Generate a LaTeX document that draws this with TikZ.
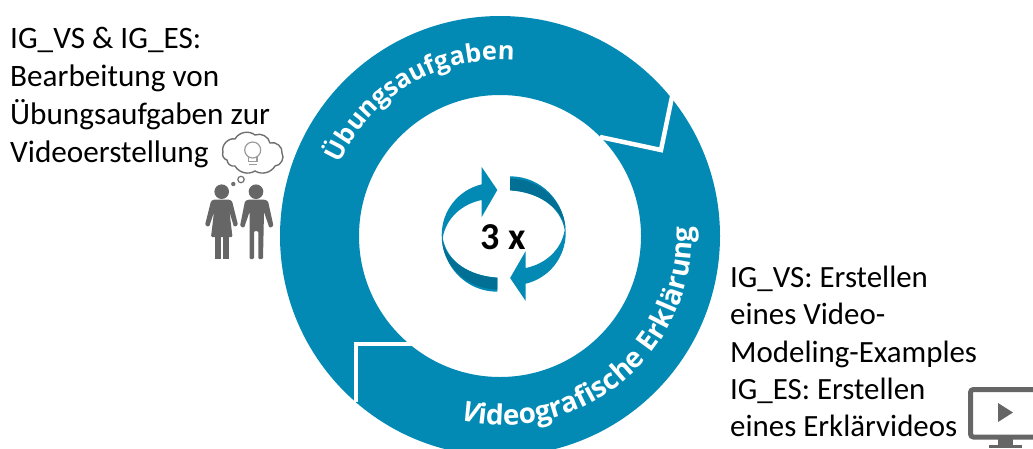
\documentclass[tikz,border=0pt]{standalone}
\usepackage{fontspec}
\setmainfont{Carlito}
\newfontfamily\ringfont{Open Sans}
\usetikzlibrary{decorations.text}
\definecolor{ringblue}{HTML}{028AB4}
\definecolor{darkblue}{HTML}{026F94}
\definecolor{icongray}{HTML}{666666}
\definecolor{cloudgray}{HTML}{707070}
\tikzset{
  caption/.style={anchor=north west,align=left,inner sep=0pt,text=black},
  icon/.style={fill=icongray,draw=none,rounded corners=1.2pt},
  cloudline/.style={draw=cloudgray,fill=none,line width=1.4pt},
  ribbon/.style={fill=ringblue,draw=none},
  ribbondark/.style={fill=darkblue,draw=none}
}
\newcommand{\ringstyle}{\color{white}\ringfont\fontsize{25.5}{25.5}\selectfont\bfseries}
\newcommand{\ringstyleb}{\color{white}\ringfont\fontsize{28}{28}\selectfont\bfseries}
\newcommand{\turnarrow}{%
  \path[ribbon] (497.3,-190) -- (481.7,-167) -- (481.7,-184.3)
    .. controls (458,-190) and (441.7,-211) .. (441.7,-235)
    .. controls (441.7,-266) and (466,-291.7) .. (497.3,-291.7)
    -- (497.3,-277.7)
    .. controls (470,-276) and (447,-262) .. (442.7,-238)
    .. controls (446,-218) and (462,-204) .. (481.7,-200)
    -- (481.7,-217) -- cycle;
  \path[ribbondark] (497.3,-277.7) -- (497.3,-289.5)
    .. controls (466,-289) and (444,-266) .. (441.9,-240)
    .. controls (447,-262) and (470,-276) .. (497.3,-277.7) -- cycle;
}
\begin{document}
\begin{tikzpicture}[x=1pt,y=1pt]
\useasboundingbox (0,-448) rectangle (1033,0);
\clip (0,-448) rectangle (1033,0);
% ring
\coordinate (c) at (500,-236);
\coordinate (c2) at (503,-236);
\fill[ringblue,even odd rule] (c) circle[radius=220pt] (c) circle[radius=141pt];
% white separators
\draw[white,line width=4.5pt,line join=miter] (673,-92) -- (661,-150) -- (600,-137);
\draw[white,line width=4.5pt,line join=miter] (356,-402) -- (356,-344) -- (420,-344);
% curved labels
\path[decorate,decoration={text along path,text align=center,
  text={|\ringstyle|Übungsaufgaben}}]
  (c) ++(155:176pt) arc[start angle=155,end angle=86,radius=176pt];
\path[decorate,decoration={text along path,text align=center,
  text={|\ringstyleb\itshape|V|\ringstyleb|ideografische Erklärung}}]
  (c2) ++(255:189pt) arc[start angle=255,end angle=365,radius=189pt];
% turning arrows
\turnarrow
\begin{scope}[rotate around={180:(503.7,-234)}]
\turnarrow
\end{scope}
\node[inner sep=0pt,font=\fontsize{38}{38}\selectfont\bfseries] (times) at (503.5,-237) {3 x};
% captions
\node[caption,font=\fontsize{31.2}{38}\selectfont] (left) at (10,-27) {IG\_VS \& IG\_ES:\\Bearbeitung von\\Übungsaufgaben zur\\Videoerstellung};
\node[caption,font=\fontsize{30.9}{37.2}\selectfont] (right) at (730,-266) {IG\_VS: Erstellen\\eines Video-\\Modeling-Examples\\IG\_ES: Erstellen\\eines Erklärvideos};
% thinking pair
\draw[cloudline] (223,-152) to[bend left=60] (235,-139) to[bend left=50] (255,-135)
  to[bend left=50] (270,-143) to[bend left=60] (282,-153) to[bend left=60] (275,-166)
  to[bend left=45] (255,-171) to[bend left=45] (235,-166) to[bend left=50] (227,-160)
  to[bend left=50] cycle;
\draw[cloudline,draw=cloudgray!70,line width=1.2pt] (252.7,-150) circle[radius=8pt];
\draw[cloudline,draw=cloudgray!70,line width=1.2pt] (248.5,-157) -- (248.5,-161.5) -- (257,-161.5) -- (257,-157);
\draw[cloudline,draw=cloudgray!70,line width=1.2pt] (249,-164.5) -- (256.5,-164.5);
\draw[cloudline,line width=1.2pt] (241,-179.5) circle[radius=3.2pt];
\fill[cloudgray] (233.3,-184) circle[radius=2.2pt];
\fill[icongray] (221.7,-191.7) circle[radius=7.3pt];
\path[icon] (214,-199.5) -- (229,-199.5) -- (232,-201) -- (238,-225) -- (234,-227) -- (229.5,-212) -- (232.5,-237)
  -- (211,-237) -- (214,-212) -- (209,-227) -- (205,-225) -- (211,-201) -- cycle;
\fill[icongray] (215,-235) rectangle (220.7,-259);
\fill[icongray] (223.3,-235) rectangle (229,-259);
\fill[icongray] (256,-191.7) circle[radius=7.3pt];
\path[icon] (249,-199.5) -- (264,-199.5) -- (268,-201) -- (273.5,-226) -- (269.5,-228) -- (264,-212) -- (263,-259)
  -- (258.3,-259) -- (258.3,-231) -- (254,-231) -- (254,-259) -- (249.5,-259) -- (249.5,-212)
  -- (244,-228) -- (240,-226) -- (245,-201) -- cycle;
% monitor
\draw[icongray,line width=5pt,rounded corners=3pt] (970.5,-389.5) rectangle (1045,-437);
\fill[icongray] (998,-439) rectangle (1013,-445);
\fill[icongray] (989,-445) rectangle (1022,-448);
\fill[icongray] (998,-403) -- (1013,-412.5) -- (998,-422) -- cycle;
\end{tikzpicture}
\end{document}
